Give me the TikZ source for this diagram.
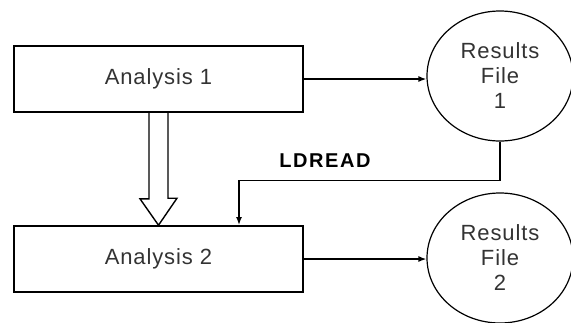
\documentclass[tikz,border=0pt]{standalone}
\usepackage{fontspec}
\setmainfont{Liberation Sans}
\usetikzlibrary{shapes.geometric,arrows.meta}

\begin{document}
\begin{tikzpicture}[x=0.5pt, y=-0.5pt,
    wire/.style={line width=0.7pt, -{Latex[length=4pt,width=3pt]}},
    anabox/.style={draw, line width=0.8pt, minimum width=144.5pt, minimum height=33pt,
        font=\fontsize{11}{13}\selectfont\addfontfeatures{LetterSpace=4}, text=black!80},
    resfile/.style={draw, ellipse, line width=0.6pt, minimum width=73pt, minimum height=65pt,
        inner sep=0pt, align=center, font=\fontsize{11}{12.5}\selectfont\addfontfeatures{LetterSpace=4}, text=black!80}]
    \useasboundingbox (0,0) rectangle (571,322);
    % Paths, nodes and wires:
    \node[anabox] (ana1) at (158.5, 79){Analysis 1};
    \node[anabox] (ana2) at (158.5, 259){Analysis 2};
    \node[resfile] (res1) at (500, 76){Results\\File\\1};
    \node[resfile] (res2) at (500, 258){Results\\File\\2};
    \draw[wire] (ana1.east) -- (ana1.east -| res1.west);
    \draw[wire] (ana2.east) -- (ana2.east -| res2.west);
    \coordinate (ldtip) at (239, 225);
    \draw[wire] (res1.south) -- ++(0, 39) -| (ldtip);
    \node[font=\fontsize{10}{12}\bfseries\addfontfeatures{LetterSpace=8}] (ldread) at (325, 161){LDREAD};
    % hollow arrow between the analyses
    \draw[line width=0.7pt] ([xshift=-4.75pt]ana1.south) -- ++(0, 86) -- ++(-9, 0) -- (ana2.north)
        -- ++(18.5, -27) -- ++(-9, 0) -- ([xshift=4.75pt]ana1.south);
\end{tikzpicture}
\end{document}
